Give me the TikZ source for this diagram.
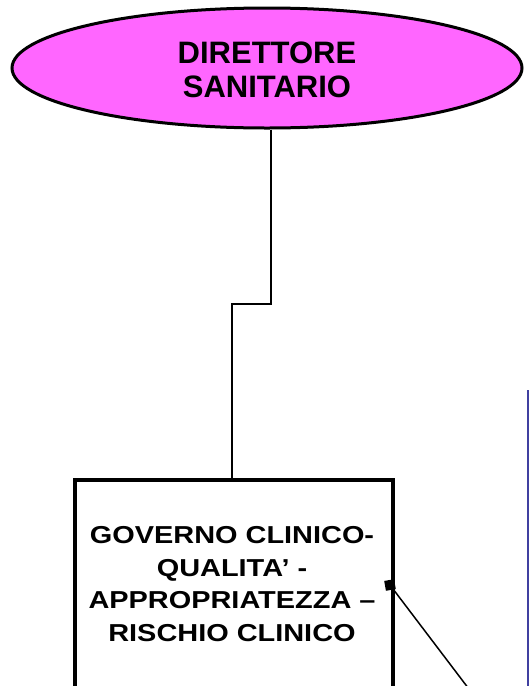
\documentclass[tikz,border=0pt]{standalone}
\usepackage{fontspec}
\setmainfont{Liberation Sans}
\newfontfamily\widebold{Liberation Sans Bold}[FakeStretch=1.18]
\usetikzlibrary{shapes.geometric}
\definecolor{dsmagenta}{RGB}{255,102,255}
\definecolor{sideblue}{RGB}{64,64,160}
\begin{document}
\begin{tikzpicture}[x=1pt,y=-1pt,
  wire/.style={line width=2pt, draw=black},
  headtext/.style={font=\bfseries\fontsize{31}{34.5}\selectfont, align=center},
  boxtext/.style={font=\widebold\fontsize{24.5}{32.5}\selectfont, align=center}]
\useasboundingbox (0,0) rectangle (529,686);
\clip (0,0) rectangle (529,686);
% ellipse
\node[ellipse, draw=black, line width=3pt, fill=dsmagenta,
      minimum width=510, minimum height=120, inner sep=0pt] (ds) at (267,68) {};
\node[headtext] (dstext) at (267,70) {DIRETTORE\\SANITARIO};
% box
\node[draw=black, line width=3.5pt, minimum width=318, minimum height=300,
      inner sep=0pt, anchor=north west] (gov) at (73,478) {};
\node[boxtext] (govtext) at (232,584) {GOVERNO CLINICO-\\QUALITA’ -\\APPROPRIATEZZA –\\RISCHIO CLINICO};
% connector
\coordinate (j1) at (271,304);
\coordinate (j2) at (232,304);
\draw[wire] (ds.south -| j1) -- (j1) -- (j2) -- (j2 |- gov.north);
% small square and line
\node[fill=black, minimum size=10pt, inner sep=0pt, rotate=10] (sq) at (390,585) {};
\coordinate (lend) at (475,697);
\draw[line width=1.5pt] (sq.center) -- (lend);
% blue side line
\coordinate (b1) at (528,390);
\coordinate (b2) at (528,690);
\draw[draw=sideblue, line width=2pt] (b1) -- (b2);
\end{tikzpicture}
\end{document}
